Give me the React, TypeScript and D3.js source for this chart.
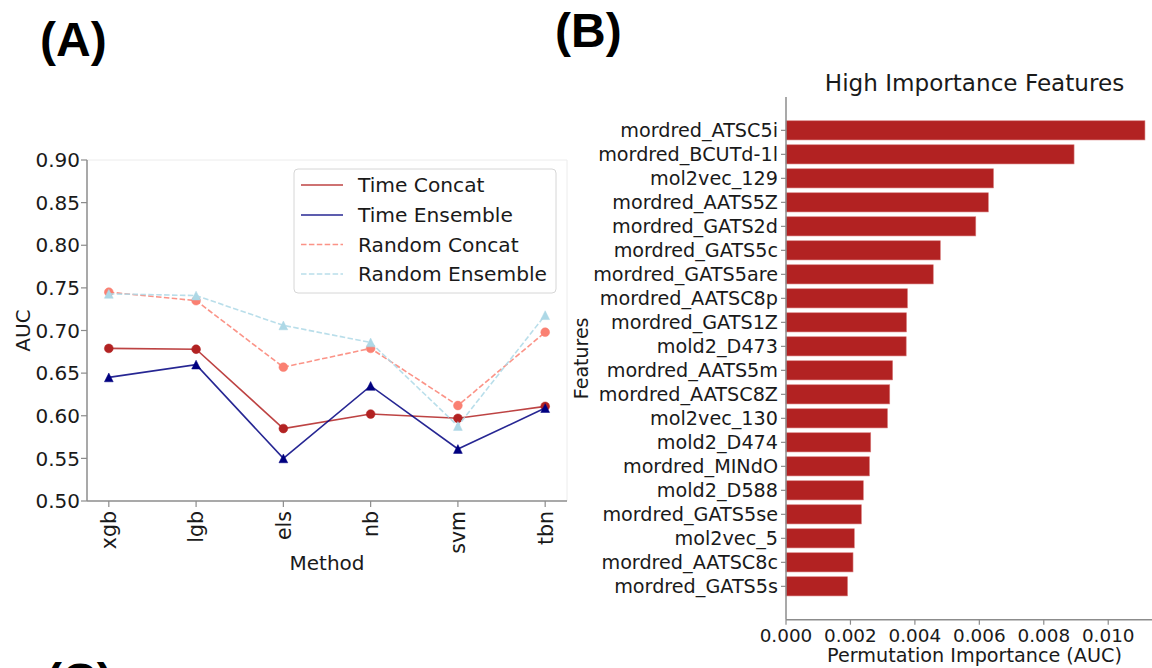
import React from "react";
import * as d3 from "d3";

// Panel A: AUC per method for each split/fusion strategy
const methods = ["xgb", "lgb", "els", "nb", "svm", "tbn"];
const timeConcat = [0.679, 0.678, 0.585, 0.602, 0.597, 0.611];
const timeEnsemble = [0.645, 0.66, 0.55, 0.635, 0.561, 0.609];
const randomConcat = [0.745, 0.735, 0.657, 0.679, 0.612, 0.698];
const randomEnsemble = [0.743, 0.741, 0.706, 0.686, 0.588, 0.718];
const aucTicks = [0.5, 0.55, 0.6, 0.65, 0.7, 0.75, 0.8, 0.85, 0.9];

// Panel B: permutation importance of top features
const features = [
  "mordred_ATSC5i",
  "mordred_BCUTd-1l",
  "mol2vec_129",
  "mordred_AATS5Z",
  "mordred_GATS2d",
  "mordred_GATS5c",
  "mordred_GATS5are",
  "mordred_AATSC8p",
  "mordred_GATS1Z",
  "mold2_D473",
  "mordred_AATS5m",
  "mordred_AATSC8Z",
  "mol2vec_130",
  "mold2_D474",
  "mordred_MINdO",
  "mold2_D588",
  "mordred_GATS5se",
  "mol2vec_5",
  "mordred_AATSC8c",
  "mordred_GATS5s",
];
const importances = [
  0.01114, 0.00894, 0.00644, 0.00628, 0.00589, 0.00479, 0.00457, 0.00377,
  0.00374, 0.00373, 0.00331, 0.00322, 0.00315, 0.00263, 0.00259, 0.0024,
  0.00234, 0.00212, 0.00208, 0.00191,
];
const importanceTicks = [0, 0.002, 0.004, 0.006, 0.008, 0.01];

const FONT = "'DejaVu Sans', sans-serif";
const BOLD = "'Liberation Sans', Arial, sans-serif";
const SPINE = "#8c8c8c";
const INK = "#1a1a1a";

type Series = {
  name: string;
  values: number[];
  color: string;
  dashed: boolean;
  marker: "circle" | "triangle";
};

const series: Series[] = [
  { name: "Time Concat", values: timeConcat, color: "#b22222", dashed: false, marker: "circle" },
  { name: "Time Ensemble", values: timeEnsemble, color: "#000080", dashed: false, marker: "triangle" },
  { name: "Random Concat", values: randomConcat, color: "#fa8072", dashed: true, marker: "circle" },
  { name: "Random Ensemble", values: randomEnsemble, color: "#add8e6", dashed: true, marker: "triangle" },
];

function trianglePath(cx: number, cy: number, s: number) {
  const p = d3.path();
  p.moveTo(cx, cy - s / 2);
  p.lineTo(cx + s / 2, cy + s / 2);
  p.lineTo(cx - s / 2, cy + s / 2);
  p.closePath();
  return p.toString();
}

function PanelA() {
  const left = 87, right = 567, top = 160, bottom = 501;
  const x = d3.scaleLinear().domain([-0.25, methods.length - 1 + 0.25]).range([left, right]);
  const y = d3.scaleLinear().domain([0.5, 0.9]).range([bottom, top]);
  const line = d3
    .line<number>()
    .x((_, i) => x(i))
    .y((v) => y(v));

  const legendX = 294, legendY = 169;
  const rowY = [185, 215, 244.5, 274];

  return (
    <g>
      {/* frame */}
      <line x1={left} x2={right} y1={top} y2={top} stroke="#ececec" strokeWidth={1} />
      <line x1={right} x2={right} y1={top} y2={bottom} stroke="#ececec" strokeWidth={1} />

      {/* series */}
      {series.map((s) => (
        <g key={s.name}>
          <path
            d={line(s.values) || ""}
            fill="none"
            stroke={s.color}
            strokeOpacity={0.85}
            strokeWidth={1.6}
            strokeDasharray={s.dashed ? "5.5,2.4" : undefined}
          />
          {s.values.map((v, i) =>
            s.marker === "circle" ? (
              <circle key={i} cx={x(i)} cy={y(v)} r={4.4} fill={s.color} stroke={s.color} strokeOpacity={0.5} strokeWidth={1} />
            ) : (
              <path key={i} d={trianglePath(x(i), y(v), 8.8)} fill={s.color} stroke={s.color} strokeOpacity={0.5} strokeWidth={1} />
            )
          )}
        </g>
      ))}

      {/* axes */}
      <line x1={left} x2={left} y1={top} y2={bottom} stroke={SPINE} strokeWidth={1.5} />
      <line x1={left} x2={right} y1={bottom} y2={bottom} stroke={SPINE} strokeWidth={1.5} />
      {aucTicks.map((t) => (
        <g key={t}>
          <line x1={left - 6} x2={left} y1={y(t)} y2={y(t)} stroke={SPINE} strokeWidth={1.2} />
          <text x={left - 7} y={y(t)} dy="0.36em" textAnchor="end" fontSize={20} fontFamily={FONT} fill={INK}>
            {t.toFixed(2)}
          </text>
        </g>
      ))}
      {methods.map((m, i) => (
        <g key={m}>
          <line x1={x(i)} x2={x(i)} y1={bottom} y2={bottom + 6} stroke={SPINE} strokeWidth={1.2} />
          <text
            transform={`translate(${x(i)},${bottom + 10}) rotate(-90)`}
            dy="0.36em"
            textAnchor="end"
            fontSize={20.5}
            fontFamily={FONT}
            fill={INK}
          >
            {m}
          </text>
        </g>
      ))}
      <text x={(left + right) / 2} y={570} textAnchor="middle" fontSize={20} fontFamily={FONT} fill={INK}>
        Method
      </text>
      <text
        transform={`translate(30,${(top + bottom) / 2}) rotate(-90)`}
        textAnchor="middle"
        fontSize={20}
        fontFamily={FONT}
        fill={INK}
      >
        AUC
      </text>

      {/* legend */}
      <rect x={legendX} y={legendY} width={262} height={124} rx={4} fill="#fff" fillOpacity={0.8} stroke="#d6d6d6" strokeWidth={1} />
      {series.map((s, i) => (
        <g key={s.name}>
          <line
            x1={301}
            x2={343}
            y1={rowY[i]}
            y2={rowY[i]}
            stroke={s.color}
            strokeOpacity={0.85}
            strokeWidth={1.6}
            strokeDasharray={s.dashed ? "5.5,2.4" : undefined}
          />
          <text x={358} y={rowY[i]} dy="0.36em" fontSize={20.2} fontFamily={FONT} fill={INK}>
            {s.name}
          </text>
        </g>
      ))}
    </g>
  );
}

function PanelB() {
  const left = 786, top = 97, bottom = 619.7;
  const x = d3.scaleLinear().domain([0, 0.0117]).range([left, 1163]);
  const y = d3.scaleLinear().domain([-1.39, features.length - 1 + 1.39]).range([top, bottom]);
  const barH = y(0.8) - y(0);

  return (
    <g>
      <text x={974.5} y={91} textAnchor="middle" fontSize={23.1} fontFamily={FONT} fill={INK}>
        High Importance Features
      </text>
      {importances.map((v, i) => (
        <rect
          key={features[i]}
          x={x(0)}
          y={y(i) - barH / 2}
          width={x(v) - x(0)}
          height={barH}
          fill="#b22222"
          stroke="#d98080"
          strokeWidth={0.6}
        />
      ))}
      <line x1={left} x2={left} y1={top} y2={bottom} stroke={SPINE} strokeWidth={1.5} />
      <line x1={left} x2={1163} y1={bottom} y2={bottom} stroke={SPINE} strokeWidth={1.5} />
      {features.map((f, i) => (
        <g key={f}>
          <line x1={left - 5} x2={left} y1={y(i)} y2={y(i)} stroke={SPINE} strokeWidth={1.2} />
          <text x={778} y={y(i)} dy="0.36em" textAnchor="end" fontSize={19.2} fontFamily={FONT} fill={INK}>
            {f}
          </text>
        </g>
      ))}
      {importanceTicks.map((t) => (
        <g key={t}>
          <line x1={x(t)} x2={x(t)} y1={bottom} y2={bottom + 5} stroke={SPINE} strokeWidth={1.2} />
          <text x={x(t)} y={641.5} textAnchor="middle" fontSize={18.4} fontFamily={FONT} fill={INK}>
            {t.toFixed(3)}
          </text>
        </g>
      ))}
      <text x={974.5} y={662} textAnchor="middle" fontSize={19.2} fontFamily={FONT} fill={INK}>
        Permutation Importance (AUC)
      </text>
      <text
        transform={`translate(588,${(top + bottom) / 2}) rotate(-90)`}
        textAnchor="middle"
        fontSize={19}
        fontFamily={FONT}
        fill={INK}
      >
        Features
      </text>
    </g>
  );
}

export default function App() {
  return (
    <svg
      width={1152}
      height={668}
      viewBox="0 0 1152 668"
      style={{ position: "absolute", left: 0, top: 0, background: "#fff" }}
    >
      <rect width={1152} height={668} fill="#fff" />
      <text x={40} y={56} fontSize={48} fontWeight="bold" fontFamily={BOLD} fill="#000">
        (A)
      </text>
      <text x={555} y={47} fontSize={48} fontWeight="bold" fontFamily={BOLD} fill="#000">
        (B)
      </text>
      <text x={46} y={697} fontSize={48} fontWeight="bold" fontFamily={BOLD} fill="#000">
        (C)
      </text>
      <PanelA />
      <PanelB />
    </svg>
  );
}
